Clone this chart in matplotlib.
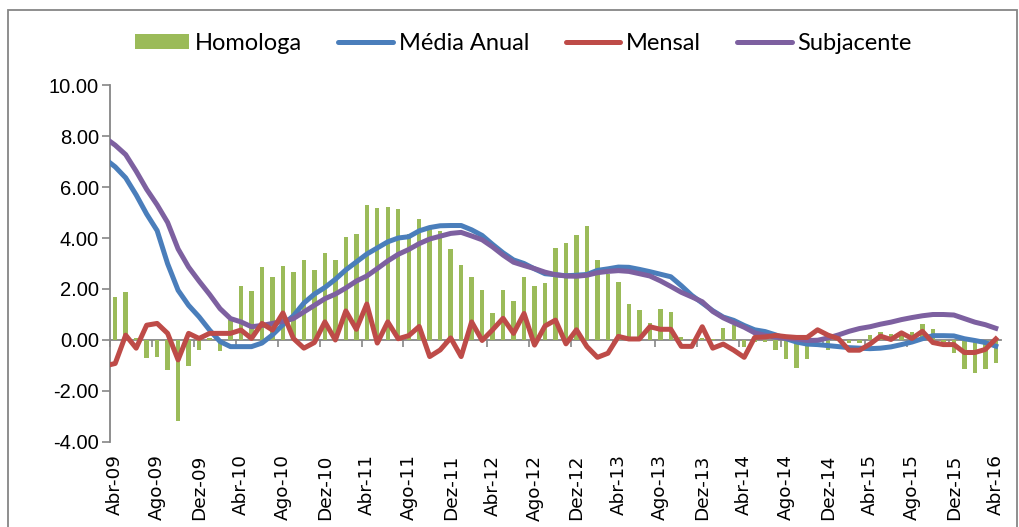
import numpy as np
import matplotlib
matplotlib.use("Agg")
import matplotlib.pyplot as plt
from matplotlib.patches import Patch, Rectangle
from matplotlib.lines import Line2D

# ---- data (Abr-09 .. Abr-16, monthly) ----
homologa = [1.69, 1.88, 0.08, -0.71, -0.65, -1.19, -3.16, -1.01, -0.39, 0.06,
            -0.45, 0.78, 2.12, 1.92, 2.86, 2.49, 2.92, 2.66, 3.12, 2.73,
            3.42, 3.12, 4.05, 4.16, 5.30, 5.17, 5.23, 5.12, 4.16, 4.75,
            4.49, 4.26, 3.55, 2.93, 2.48, 1.98, 1.04, 1.98, 1.54, 2.48,
            2.11, 2.24, 3.61, 3.80, 4.12, 4.48, 3.12, 2.58, 2.29, 1.42,
            1.17, 0.66, 1.23, 1.10, 0.10, 0.05, 0.08, 0.05, 0.46, 0.58,
            -0.26, -0.08, -0.06, -0.39, -0.75, -1.08, -0.76, 0.00, -0.39, -0.05,
            -0.10, -0.10, 0.20, 0.33, 0.23, 0.20, 0.33, 0.61, 0.42, -0.07,
            -0.50, -1.15, -1.28, -1.15, -0.89]

# line series include the preceding month (Mar-09), partly visible at the axis edge
media_anual = [7.11,
               6.79, 6.36, 5.69, 4.94, 4.29, 2.99, 1.95, 1.36, 0.91, 0.39,
               -0.06, -0.26, -0.26, -0.26, -0.12, 0.20, 0.60, 0.95, 1.45, 1.80,
               2.06, 2.38, 2.75, 3.06, 3.37, 3.61, 3.85, 4.00, 4.05, 4.28,
               4.41, 4.48, 4.49, 4.49, 4.32, 4.10, 3.75, 3.42, 3.14, 3.00,
               2.79, 2.60, 2.56, 2.52, 2.54, 2.57, 2.73, 2.79, 2.86, 2.85,
               2.77, 2.68, 2.58, 2.48, 2.13, 1.75, 1.45, 1.15, 0.90, 0.77,
               0.57, 0.40, 0.33, 0.20, 0.05, -0.08, -0.16, -0.18, -0.22, -0.26,
               -0.30, -0.32, -0.34, -0.32, -0.27, -0.18, -0.08, 0.05, 0.17, 0.17,
               0.16, 0.05, -0.02, -0.10, -0.24]

mensal = [-1.02,
          -0.92, 0.19, -0.32, 0.58, 0.65, 0.26, -0.78, 0.26, 0.06, 0.26,
          0.26, 0.26, 0.39, 0.06, 0.65, 0.39, 1.06, 0.06, -0.32, -0.10,
          0.71, 0.00, 1.14, 0.42, 1.41, -0.12, 0.71, 0.05, 0.17, 0.53,
          -0.65, -0.39, 0.08, -0.65, 0.71, -0.02, 0.40, 0.85, 0.26, 1.04,
          -0.20, 0.55, 0.78, -0.15, 0.40, -0.26, -0.68, -0.52, 0.14, 0.04,
          0.04, 0.52, 0.42, 0.42, -0.25, -0.25, 0.52, -0.32, -0.16, -0.40,
          -0.68, 0.10, 0.12, 0.18, 0.13, 0.10, 0.10, 0.40, 0.19, 0.05,
          -0.40, -0.40, -0.16, 0.15, 0.02, 0.28, 0.06, 0.34, -0.10, -0.18,
          -0.18, -0.49, -0.49, -0.37, 0.04]

subjacente = [7.94,
              7.64, 7.27, 6.62, 5.91, 5.30, 4.61, 3.57, 2.86, 2.31, 1.79,
              1.23, 0.84, 0.71, 0.52, 0.57, 0.65, 0.73, 0.84, 1.10, 1.36,
              1.62, 1.80, 2.04, 2.31, 2.51, 2.80, 3.10, 3.36, 3.55, 3.78,
              3.96, 4.07, 4.18, 4.22, 4.08, 3.93, 3.65, 3.33, 3.05, 2.92,
              2.80, 2.66, 2.56, 2.51, 2.50, 2.54, 2.64, 2.69, 2.72, 2.69,
              2.60, 2.51, 2.32, 2.10, 1.87, 1.69, 1.50, 1.12, 0.87, 0.68,
              0.50, 0.28, 0.18, 0.11, 0.07, 0.04, -0.02, -0.01, 0.08, 0.20,
              0.34, 0.45, 0.52, 0.62, 0.70, 0.80, 0.88, 0.95, 1.00, 1.00,
              0.98, 0.84, 0.70, 0.60, 0.46]

tick_labels = ['Abr-09', 'Ago-09', 'Dez-09', 'Abr-10', 'Ago-10', 'Dez-10',
               'Abr-11', 'Ago-11', 'Dez-11', 'Abr-12', 'Ago-12', 'Dez-12',
               'Abr-13', 'Ago-13', 'Dez-13', 'Abr-14', 'Ago-14', 'Dez-14',
               'Abr-15', 'Ago-15', 'Dez-15', 'Abr-16']

series_names = ['Homologa', 'Média Anual', 'Mensal', 'Subjacente']

# ---- styling ----
GREEN = '#9BBB59'
BLUE = '#4A7EBB'
RED = '#BE4B48'
PURPLE = '#7D60A0'
AXIS = '#868686'

n = len(homologa)
xb = np.arange(n) + 0.5                 # category centres
xl = np.arange(-1, n) + 0.5             # line points (incl. previous month)

fig = plt.figure(figsize=(10.2, 5.27), dpi=100)
ax = fig.add_axes([0.1078, 0.1613, 0.8736, 0.6774])

ax.bar(xb, homologa, width=0.42, color=GREEN, zorder=2)
lw = 3.6
ax.plot(xl, media_anual, color=BLUE, lw=lw, zorder=3, solid_joinstyle='round')
ax.plot(xl, mensal, color=RED, lw=lw, zorder=4, solid_joinstyle='round')
ax.plot(xl, subjacente, color=PURPLE, lw=lw, zorder=3, solid_joinstyle='round')

ax.set_xlim(0, n)
ax.set_ylim(-4, 10)

# y axis
yt = np.arange(-4, 10.01, 2)
ax.set_yticks(yt)
ax.set_yticklabels([f'{v:.2f}' for v in yt],
                   fontfamily='Liberation Sans', fontsize=14.5)
ax.tick_params(axis='y', direction='out', length=6, width=1.2, color=AXIS, pad=2)

for s in ['top', 'right']:
    ax.spines[s].set_visible(False)
ax.spines['left'].set_color(AXIS)
ax.spines['left'].set_linewidth(1.3)
ax.spines['bottom'].set_position(('data', 0))
ax.spines['bottom'].set_color(AXIS)
ax.spines['bottom'].set_linewidth(1.3)
ax.spines['bottom'].set_zorder(1)

# tick marks on the zero line at category boundaries
ax.set_xticks(np.arange(0, n, 4))
ax.set_xticklabels([])
ax.tick_params(axis='x', direction='out', length=5, width=1.2, color=AXIS)

# category labels at the bottom
sec = ax.secondary_xaxis('bottom')
sec.spines['bottom'].set_visible(False)
sec.set_xticks(np.arange(0, n, 4) + 0.5)
sec.set_xticklabels(tick_labels, rotation=90, fontfamily='DejaVu Sans',
                    fontsize=13.3)
sec.tick_params(axis='x', length=0, pad=9)

# legend
handles = [Patch(facecolor=GREEN, edgecolor='none'),
           Line2D([], [], color=BLUE, lw=lw, solid_capstyle='round'),
           Line2D([], [], color=RED, lw=lw, solid_capstyle='round'),
           Line2D([], [], color=PURPLE, lw=lw, solid_capstyle='round')]
fig.legend(handles, series_names, loc='center', bbox_to_anchor=(0.513, 0.918),
           ncol=4, frameon=False, prop={'family': 'Lato', 'size': 17},
           handlelength=2.3, handleheight=0.62, handletextpad=0.25,
           columnspacing=1.55)

# outer chart frame
fig.patches.append(Rectangle((8 / 1020, -0.05), 1009 / 1020, 1.05 - 10 / 527,
                             transform=fig.transFigure, fill=False,
                             edgecolor=AXIS, lw=1.3))

fig.savefig('out.png', dpi=100)
